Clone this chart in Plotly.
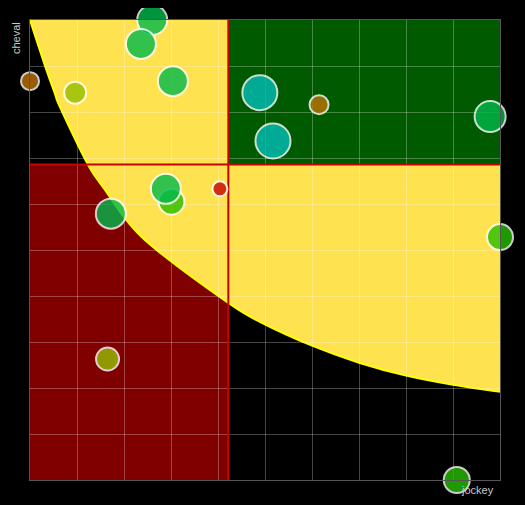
import plotly.graph_objects as go

# ---- data ----
jockey = [2.60, 2.36, 3.04, 0.00, 0.96, 4.89, 5.17, 6.15, 9.79, 10.00, 3.01, 2.89, 4.04, 1.72, 1.65, 9.08]
cheval = [10.00, 9.48, 8.67, 8.67, 8.42, 8.42, 7.37, 8.16, 7.90, 5.28, 6.05, 6.33, 6.33, 5.79, 2.63, 0.00]
bubble_size = [30, 30, 30, 18, 22, 35, 35, 19, 31, 26, 26, 30, 15, 30, 23, 26]
bubble_color = [
    "rgb(0,185,75)", "rgb(0,185,75)", "rgb(0,185,75)", "rgb(192,115,0)",
    "rgb(150,190,0)", "rgb(0,190,185)", "rgb(0,190,185)", "rgb(192,115,0)",
    "rgb(0,185,75)", "rgb(40,192,0)", "rgb(40,192,0)", "rgb(0,185,75)",
    "rgb(200,0,0)", "rgb(0,185,75)", "rgb(150,190,0)", "rgb(40,192,0)",
]

x_split = 4.22
y_split = 6.86
axis_min, axis_max = 0, 10

# boundary of the yellow zone
curve_x = [0.00, 0.32, 0.53, 0.64, 1.23, 1.60, 2.09, 2.72, 4.22, 4.89, 6.00, 7.00, 8.00, 9.00, 10.00]
curve_y = [10.00, 9.00, 8.40, 8.10, 6.86, 6.30, 5.60, 4.98, 3.85, 3.44, 2.92, 2.55, 2.27, 2.07, 1.92]


def smooth_path(xs, ys):
    pts = list(zip(xs, ys))
    n = len(pts)
    d = f"M {pts[0][0]},{pts[0][1]}"
    for i in range(n - 1):
        p0 = pts[i - 1] if i > 0 else pts[i]
        p1 = pts[i]
        p2 = pts[i + 1]
        p3 = pts[i + 2] if i + 2 < n else pts[i + 1]
        c1 = (p1[0] + (p2[0] - p0[0]) / 6, p1[1] + (p2[1] - p0[1]) / 6)
        c2 = (p2[0] - (p3[0] - p1[0]) / 6, p2[1] - (p3[1] - p1[1]) / 6)
        d += f" C {c1[0]:.4f},{c1[1]:.4f} {c2[0]:.4f},{c2[1]:.4f} {p2[0]},{p2[1]}"
    return d


curve = smooth_path(curve_x, curve_y)
yellow_zone = curve + f" L {axis_max},{axis_max} L {axis_min},{axis_max} Z"

fig = go.Figure()
fig.add_trace(go.Scatter(
    x=jockey, y=cheval, mode="markers",
    marker=dict(size=bubble_size, color=bubble_color, opacity=0.8,
                line=dict(color="white", width=2)),
    cliponaxis=False, hoverinfo="skip", showlegend=False,
))

shapes = [
    dict(type="rect", xref="x", yref="y", x0=axis_min, x1=x_split, y0=axis_min, y1=y_split,
         fillcolor="rgb(128,0,0)", line=dict(width=0), layer="below"),
    dict(type="path", xref="x", yref="y", path=yellow_zone,
         fillcolor="rgb(255,226,80)", line=dict(width=0), layer="below"),
    dict(type="path", xref="x", yref="y", path=curve,
         fillcolor="rgba(0,0,0,0)", line=dict(color="#ffff00", width=2), layer="below"),
    dict(type="rect", xref="x", yref="y", x0=x_split, x1=axis_max, y0=y_split, y1=axis_max,
         fillcolor="rgb(0,90,0)", line=dict(width=0), layer="below"),
    dict(type="line", xref="x", yref="y", x0=x_split, x1=x_split, y0=axis_min, y1=axis_max,
         line=dict(color="rgb(200,0,0)", width=2), layer="between"),
    dict(type="line", xref="x", yref="y", x0=axis_min, x1=axis_max, y0=y_split, y1=y_split,
         line=dict(color="rgb(200,0,0)", width=2), layer="between"),
]

axis_common = dict(
    range=[axis_min, axis_max], dtick=1, tick0=0, showticklabels=False, ticks="",
    showgrid=True, gridcolor="rgba(255,255,255,0.27)", gridwidth=1,
    zeroline=False, showline=True, mirror=True, linecolor="#555555", linewidth=1,
    fixedrange=True,
)

fig.update_layout(
    width=509, height=489,
    margin=dict(l=22, r=17, t=12, b=17),
    paper_bgcolor="black", plot_bgcolor="black",
    xaxis=axis_common, yaxis=axis_common,
    shapes=shapes,
    font=dict(family="Liberation Sans, Arial, sans-serif", size=11, color="#c8c8c8"),
    annotations=[
        dict(text="jockey", xref="paper", yref="paper", x=1, y=0, xanchor="right",
             yanchor="top", xshift=-4, yshift=-2, showarrow=False,
             font=dict(size=11, color="#c8c8c8")),
        dict(text="cheval", xref="paper", yref="paper", x=0, y=1, xanchor="center",
             yanchor="top", xshift=-14, yshift=0, textangle=-90, showarrow=False,
             font=dict(size=11, color="#c8c8c8")),
    ],
)

fig.write_html(
    "out.html",
    config={"displayModeBar": False},
    post_script="document.body.style.background='black';"
                "document.documentElement.style.background='black';",
)
